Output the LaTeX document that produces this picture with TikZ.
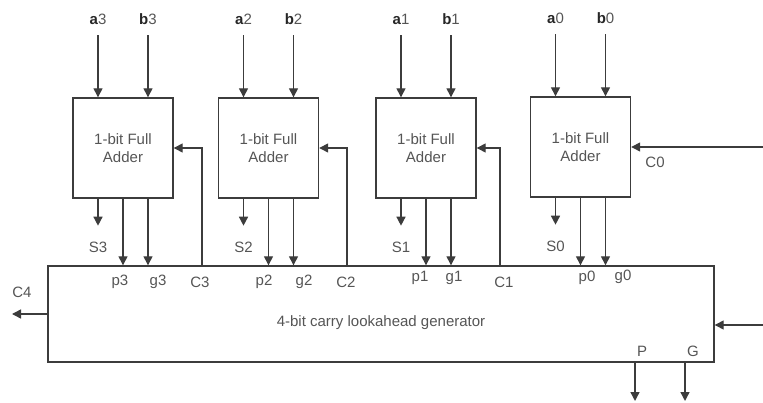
\documentclass[tikz,border=0pt]{standalone}
\usepackage{fontspec}
\setmainfont{Liberation Sans}
\usetikzlibrary{arrows.meta, positioning, calc}
\definecolor{wiregray}{RGB}{60,60,60}
\definecolor{labelgray}{RGB}{85,85,85}

\begin{document}
\begin{tikzpicture}[
    x=1pt, y=-1pt,
    adder/.style={
        rectangle,
        draw=wiregray,
        line width=1.4pt,
        minimum width=100pt,
        minimum height=100pt,
        align=center,
        text=labelgray,
        font=\fontsize{15}{18}\selectfont
    },
    block/.style={
        rectangle,
        draw=wiregray,
        line width=1.4pt,
        minimum width=666pt,
        minimum height=96pt
    },
    sig/.style={inner sep=0pt, text=labelgray, font=\fontsize{15}{18}\selectfont},
    bit/.style={inner sep=0pt, text=labelgray, font=\fontsize{15}{18}\selectfont},
    line/.style={draw=wiregray, line width=1.4pt, -{Triangle[length=9pt, width=9pt]}}
]
    \useasboundingbox (0,0) rectangle (763,403);

    \node [adder] (fa3) at (123,148) {1-bit Full\\Adder};
    \node [adder] (fa2) at (268.5,148) {1-bit Full\\Adder};
    \node [adder] (fa1) at (426,148) {1-bit Full\\Adder};
    \node [adder] (fa0) at (580.5,147) {1-bit Full\\Adder};
    \node [block] (cla) at (381,314) {};
    \node [sig] (clatext) at (381,323) {4-bit carry lookahead generator};

    \coordinate (a3in) at ($(fa3.north)+(-25,-62)$);
    \coordinate (b3in) at ($(fa3.north)+(25,-62)$);
    \coordinate (a2in) at ($(fa2.north)+(-25,-62)$);
    \coordinate (b2in) at ($(fa2.north)+(25,-62)$);
    \coordinate (a1in) at ($(fa1.north)+(-25,-62)$);
    \coordinate (b1in) at ($(fa1.north)+(25,-62)$);
    \coordinate (a0in) at ($(fa0.north)+(-25,-62)$);
    \coordinate (b0in) at ($(fa0.north)+(25,-62)$);
    \node [bit, above=10pt of a3in] (a3) {\textcolor{black!85}{\textbf{a}}3};
    \node [bit, above=10pt of b3in] (b3) {\textcolor{black!85}{\textbf{b}}3};
    \node [bit, above=10pt of a2in] (a2) {\textcolor{black!85}{\textbf{a}}2};
    \node [bit, above=10pt of b2in] (b2) {\textcolor{black!85}{\textbf{b}}2};
    \node [bit, above=10pt of a1in] (a1) {\textcolor{black!85}{\textbf{a}}1};
    \node [bit, above=10pt of b1in] (b1) {\textcolor{black!85}{\textbf{b}}1};
    \node [bit, above=10pt of a0in] (a0) {\textcolor{black!85}{\textbf{a}}0};
    \node [bit, above=10pt of b0in] (b0) {\textcolor{black!85}{\textbf{b}}0};
    \path [line] (a3in) -- (a3in |- fa3.north);
    \path [line] (b3in) -- (b3in |- fa3.north);
    \path [line] (a2in) -- (a2in |- fa2.north);
    \path [line] (b2in) -- (b2in |- fa2.north);
    \path [line] (a1in) -- (a1in |- fa1.north);
    \path [line] (b1in) -- (b1in |- fa1.north);
    \path [line] (a0in) -- (a0in |- fa0.north);
    \path [line] (b0in) -- (b0in |- fa0.north);

    \coordinate (s3tip) at ($(fa3.south)+(-25,27)$);
    \coordinate (s2tip) at ($(fa2.south)+(-25,27)$);
    \coordinate (s1tip) at ($(fa1.south)+(-25,27)$);
    \coordinate (s0tip) at ($(fa0.south)+(-25,27)$);
    \path [line] (s3tip |- fa3.south) -- (s3tip);
    \path [line] (s2tip |- fa2.south) -- (s2tip);
    \path [line] (s1tip |- fa1.south) -- (s1tip);
    \path [line] (s0tip |- fa0.south) -- (s0tip);
    \node [sig, below=16pt of s3tip] (s3) {S3};
    \node [sig, below=16pt of s2tip] (s2) {S2};
    \node [sig, below=16pt of s1tip] (s1) {S1};
    \node [sig, below=16pt of s0tip] (s0) {S0};

    \coordinate (g3out) at ($(fa3.south)+(25,0)$);
    \coordinate (g2out) at ($(fa2.south)+(25,0)$);
    \coordinate (g1out) at ($(fa1.south)+(25,0)$);
    \coordinate (g0out) at ($(fa0.south)+(25,0)$);
    \path [line] (fa3.south) -- (fa3.south |- cla.north);
    \path [line] (g3out) -- (g3out |- cla.north);
    \path [line] (fa2.south) -- (fa2.south |- cla.north);
    \path [line] (g2out) -- (g2out |- cla.north);
    \path [line] (fa1.south) -- (fa1.south |- cla.north);
    \path [line] (g1out) -- (g1out |- cla.north);
    \path [line] (fa0.south) -- (fa0.south |- cla.north);
    \path [line] (g0out) -- (g0out |- cla.north);

    \node [sig] (p3) at (120,282) {p3};
    \node [sig] (g3) at (158,282) {g3};
    \node [sig] (c3) at (200,282) {C3};
    \node [sig] (p2) at (264,282) {p2};
    \node [sig] (g2) at (304,282) {g2};
    \node [sig] (c2) at (346,282) {C2};
    \node [sig] (p1) at (420,278) {p1};
    \node [sig] (g1) at (454,278) {g1};
    \node [sig] (c1) at (504,282) {C1};
    \node [sig] (p0) at (587,278) {p0};
    \node [sig] (g0) at (623,277) {g0};

    \coordinate (c3out) at (202,266);
    \coordinate (c2out) at (347,266);
    \coordinate (c1out) at (500,266);
    \coordinate (c0in) at (763,147);
    \path [line] (c3out) |- (fa3.east);
    \path [line] (c2out) |- (fa2.east);
    \path [line] (c1out) |- (fa1.east);
    \path [line] (c0in) -- (fa0.east);
    \node [sig] (c0) at (655,162) {C0};

    \coordinate (c4out) at (12,314);
    \coordinate (clain) at (763,325);
    \path [line] (cla.west) -- (c4out);
    \path [line] (clain) -- (clain -| cla.east);
    \node [sig] (c4) at (22,292) {C4};

    \coordinate (pout) at (635,401);
    \coordinate (gout) at (685,401);
    \path [line] (pout |- cla.south) -- (pout);
    \path [line] (gout |- cla.south) -- (gout);
    \node [sig] (P) at (642,351) {P};
    \node [sig] (G) at (693,351) {G};
\end{tikzpicture}
\end{document}
